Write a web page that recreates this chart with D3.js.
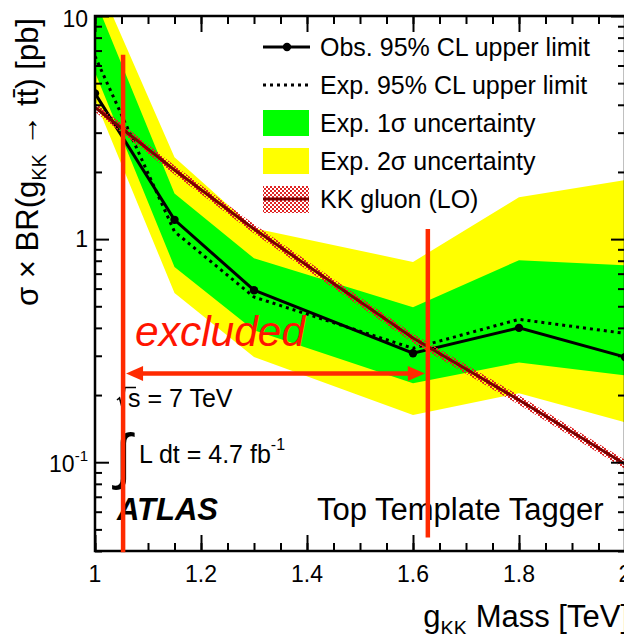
<!DOCTYPE html>
<html>
<head>
<meta charset="utf-8">
<script src="https://cdn.jsdelivr.net/npm/d3@7"></script>
<style>
  body { margin: 0; background: #fff; }
  svg { display: block; }
  text { font-family: "Liberation Sans", Arial, Helvetica, sans-serif; fill: #000; }
</style>
</head>
<body>
<svg id="chart" width="624" height="634"></svg>
<script>
// g_KK mass points [TeV]
const masses = [1.0, 1.15, 1.3, 1.6, 1.8, 2.0];
// 95% CL upper limits on sigma x BR [pb]
const observed = [4.5, 1.22, 0.59, 0.308, 0.40, 0.296];
const expected = [6.6, 1.08, 0.55, 0.324, 0.437, 0.378];
const oneSigmaLow = [5.6, 0.75, 0.39, 0.226, 0.28, 0.245];
const oneSigmaHigh = [11.9, 1.60, 0.82, 0.495, 0.805, 0.764];
const twoSigmaLow = [4.2, 0.573, 0.296, 0.163, 0.204, 0.151];
const twoSigmaHigh = [15.2, 2.33, 1.12, 0.79, 1.54, 1.84];
// KK gluon LO cross section and its band [pb]
const kkXsec = [3.9, 2.04, 1.11, 0.36, 0.19, 0.098];
const kkLow = [3.72, 1.95, 1.06, 0.343, 0.181, 0.0935];
const kkHigh = [4.08, 2.14, 1.165, 0.377, 0.199, 0.1025];
// excluded mass range [TeV] and annotation heights [pb]
const excludedRange = [1.053, 1.628];
const lowLineSpan = [6.7, 0.0395];
const highLineSpan = [1.11, 0.046];
const arrowLevel = 0.25;
// axis ticks
const xMajorTicks = [1.0, 1.2, 1.4, 1.6, 1.8, 2.0];
const xMajorLabels = ["1", "1.2", "1.4", "1.6", "1.8", "2"];
const xMinorTicks = d3.range(1.0, 2.001, 0.05);
const yMajorTicks = [0.1, 1, 10];
const yMinorTicks = [0.04, 0.05, 0.06, 0.07, 0.08, 0.09,
                     0.2, 0.3, 0.4, 0.5, 0.6, 0.7, 0.8, 0.9,
                     2, 3, 4, 5, 6, 7, 8, 9];

const svg = d3.select("#chart");
const L = 95, R = 625, T = 16, B = 551;
const x = d3.scaleLinear().domain([1, 2]).range([L, R]);
const y = d3.scaleLog().domain([0.04, 10]).range([B, T]);

const defs = svg.append("defs");
defs.append("clipPath").attr("id", "plotArea")
  .append("rect").attr("x", L).attr("y", T).attr("width", R - L).attr("height", B - T);
const pat = defs.append("pattern").attr("id", "kkHatch")
  .attr("patternUnits", "userSpaceOnUse").attr("width", 4).attr("height", 4);
pat.append("rect").attr("x", 0).attr("y", 0).attr("width", 2).attr("height", 2).attr("fill", "#e02424");
pat.append("rect").attr("x", 2).attr("y", 2).attr("width", 2).attr("height", 2).attr("fill", "#e02424");

const idx = d3.range(masses.length);
const band = (lo, hi) => d3.area()
  .x(i => x(masses[i])).y0(i => y(lo[i])).y1(i => y(hi[i]))(idx);
const curve = vals => d3.line().x(i => x(masses[i])).y(i => y(vals[i]))(idx);

const plot = svg.append("g").attr("clip-path", "url(#plotArea)");
plot.append("path").attr("d", band(twoSigmaLow, twoSigmaHigh)).attr("fill", "#ffff00");
plot.append("path").attr("d", band(oneSigmaLow, oneSigmaHigh)).attr("fill", "#00ff00");
plot.append("path").attr("d", curve(expected)).attr("fill", "none")
  .attr("stroke", "#000").attr("stroke-width", 3).attr("stroke-dasharray", "3,4");
plot.append("path").attr("d", curve(observed)).attr("fill", "none")
  .attr("stroke", "#000").attr("stroke-width", 3);
plot.selectAll("circle.obs").data(idx).join("circle").attr("class", "obs")
  .attr("cx", i => x(masses[i])).attr("cy", i => y(observed[i])).attr("r", 4.2).attr("fill", "#000");
plot.append("path").attr("d", band(kkLow, kkHigh)).attr("fill", "url(#kkHatch)");
plot.append("path").attr("d", curve(kkXsec)).attr("fill", "none")
  .attr("stroke", "#7a0000").attr("stroke-width", 3);

// axes with inward ticks on all four sides
function drawAxis(gen, tx, ty, ticks, size) {
  const g = svg.append("g").attr("transform", `translate(${tx},${ty})`)
    .call(gen.tickValues(ticks).tickSize(size).tickSizeOuter(0).tickFormat(""));
  g.select(".domain").remove();
  g.selectAll(".tick line").attr("stroke", "#000").attr("stroke-width", 2);
  g.selectAll(".tick text").remove();
}
drawAxis(d3.axisBottom(x), 0, B, xMajorTicks, -16);
drawAxis(d3.axisBottom(x), 0, B, xMinorTicks, -8);
drawAxis(d3.axisTop(x), 0, T, xMajorTicks, -16);
drawAxis(d3.axisTop(x), 0, T, xMinorTicks, -8);
drawAxis(d3.axisLeft(y), L, 0, yMajorTicks, -14);
drawAxis(d3.axisLeft(y), L, 0, yMinorTicks, -7);
drawAxis(d3.axisRight(y), R, 0, yMajorTicks, -14);
drawAxis(d3.axisRight(y), R, 0, yMinorTicks, -7);
svg.append("rect").attr("x", L).attr("y", T).attr("width", R - L).attr("height", B - T)
  .attr("fill", "none").attr("stroke", "#000").attr("stroke-width", 2.5);

// tick labels
svg.append("g").selectAll("text").data(xMajorTicks).join("text")
  .attr("x", d => x(d)).attr("y", 582).attr("text-anchor", "middle")
  .attr("font-size", 23).text((d, i) => xMajorLabels[i]);
svg.append("text").attr("x", 88).attr("y", 27).attr("text-anchor", "end").attr("font-size", 23).text("10");
svg.append("text").attr("x", 88).attr("y", y(1) + 8).attr("text-anchor", "end").attr("font-size", 23).text("1");
const tm = svg.append("text").attr("x", 88).attr("y", y(0.1) + 10).attr("text-anchor", "end").attr("font-size", 23);
tm.append("tspan").text("10");
tm.append("tspan").attr("font-size", 15).attr("dy", -11).text("-1");

// axis titles
const xt = svg.append("text").attr("x", 629).attr("y", 627).attr("text-anchor", "end").attr("font-size", 31);
xt.append("tspan").text("g");
xt.append("tspan").attr("font-size", 20).attr("dy", 8).text("KK");
xt.append("tspan").attr("dy", -8).text(" Mass [TeV]");

const yt = svg.append("text").attr("transform", "translate(38,18) rotate(-90)")
  .attr("text-anchor", "end").attr("font-size", 31);
yt.append("tspan").text("σ × BR(g");
yt.append("tspan").attr("font-size", 20).attr("dy", 8).text("KK");
yt.append("tspan").attr("dy", -8).text(" → t\u0074\u0304) [pb]");

// legend
const lg = svg.append("g");
const rows = [47, 85, 123, 161, 199];
const labels = ["Obs. 95% CL upper limit", "Exp. 95% CL upper limit",
                "Exp. 1σ uncertainty", "Exp. 2σ uncertainty", "KK gluon (LO)"];
lg.append("line").attr("x1", 263).attr("x2", 310).attr("y1", rows[0]).attr("y2", rows[0])
  .attr("stroke", "#000").attr("stroke-width", 3);
lg.append("circle").attr("cx", 287).attr("cy", rows[0]).attr("r", 4.2);
lg.append("line").attr("x1", 263).attr("x2", 310).attr("y1", rows[1]).attr("y2", rows[1])
  .attr("stroke", "#000").attr("stroke-width", 3).attr("stroke-dasharray", "3,4");
lg.append("rect").attr("x", 263).attr("y", rows[2] - 13).attr("width", 46).attr("height", 26).attr("fill", "#00ff00");
lg.append("rect").attr("x", 263).attr("y", rows[3] - 13).attr("width", 46).attr("height", 26).attr("fill", "#ffff00");
lg.append("rect").attr("x", 263).attr("y", rows[4] - 13).attr("width", 46).attr("height", 27).attr("fill", "url(#kkHatch)");
lg.append("line").attr("x1", 263).attr("x2", 309).attr("y1", rows[4]).attr("y2", rows[4])
  .attr("stroke", "#7a0000").attr("stroke-width", 3);
lg.selectAll("text").data(labels).join("text")
  .attr("x", 320).attr("y", (d, i) => rows[i] + 8.5).attr("font-size", 25).text(d => d);

// labels inside the frame
svg.append("text").attr("x", 128).attr("y", 407).attr("font-size", 25).text("s = 7 TeV");
svg.append("path").attr("d", "M117,400 L119.5,398 L122,407 L125,387.5 L136,387.5")
  .attr("fill", "none").attr("stroke", "#000").attr("stroke-width", 1.6);
svg.append("text").attr("x", 115).attr("y", 477).attr("font-size", 61)
  .attr("font-family", "DejaVu Sans").text("∫");
const lumi = svg.append("text").attr("x", 139).attr("y", 463).attr("font-size", 25);
lumi.append("tspan").text("L dt = 4.7 fb");
lumi.append("tspan").attr("font-size", 16).attr("dy", -13).text("-1");
svg.append("text").attr("x", 117).attr("y", 520).attr("font-size", 31)
  .attr("font-weight", "bold").attr("font-style", "italic").text("ATLAS");
svg.append("text").attr("x", 317).attr("y", 520).attr("font-size", 31).text("Top Template Tagger");

// excluded range annotation
const red = "#ff2a00";
svg.append("text").attr("x", 135).attr("y", 346).attr("font-size", 42.5)
  .attr("font-style", "italic").style("fill", "#ff1400").text("excluded");
svg.append("line").attr("x1", x(excludedRange[0])).attr("x2", x(excludedRange[0]))
  .attr("y1", y(lowLineSpan[0])).attr("y2", y(lowLineSpan[1]))
  .attr("stroke", red).attr("stroke-width", 4.5);
svg.append("line").attr("x1", x(excludedRange[1])).attr("x2", x(excludedRange[1]))
  .attr("y1", y(highLineSpan[0])).attr("y2", y(highLineSpan[1]))
  .attr("stroke", red).attr("stroke-width", 4.5);
const ay = y(arrowLevel), ax0 = x(excludedRange[0]) + 3, ax1 = x(excludedRange[1]) - 3;
svg.append("line").attr("x1", ax0 + 12).attr("x2", ax1 - 12).attr("y1", ay).attr("y2", ay)
  .attr("stroke", red).attr("stroke-width", 4.5);
svg.append("path").attr("d", `M${ax0},${ay} L${ax0 + 17},${ay - 7.5} L${ax0 + 17},${ay + 7.5} Z`).attr("fill", red);
svg.append("path").attr("d", `M${ax1},${ay} L${ax1 - 17},${ay - 7.5} L${ax1 - 17},${ay + 7.5} Z`).attr("fill", red);
</script>
</body>
</html>
